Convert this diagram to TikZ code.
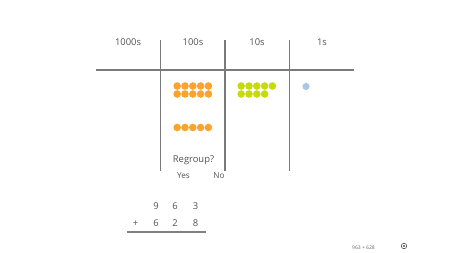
\documentclass[tikz,border=0pt]{standalone}
\usepackage{fontspec}
\setmainfont{Open Sans}
\begin{document}
\begin{tikzpicture}[x=1pt,y=-1pt,
  txt/.style={text=black!68, font=\fontsize{9.4}{11}\selectfont, inner sep=0pt},
  small/.style={text=black!60, font=\fontsize{5}{6}\selectfont, inner sep=0pt},
  rule/.style={draw=black!52, line width=1.5pt},
  odot/.style={circle, fill={rgb,255:red,250;green,163;blue,45}, minimum size=7.6pt, inner sep=0pt},
  gdot/.style={circle, fill={rgb,255:red,198;green,220;blue,10}, minimum size=7.6pt, inner sep=0pt},
  bdot/.style={circle, fill={rgb,255:red,170;green,199;blue,232}, minimum size=7.2pt, inner sep=0pt}]
\useasboundingbox (0,0) rectangle (450,253);
% grid
\coordinate (hl) at (96,70);
\coordinate (hr) at (354,70);
\draw[rule] (hl) -- (hr);
\foreach \x/\n in {160.5/a,225/b,289.5/c}{
  \coordinate (\n t) at (\x,40);
  \coordinate (\n b) at (\x,171);
  \draw[rule] (\n t) -- (\n b);
}
% headers
\node[txt] (h1000) at (128,42) {1000s};
\node[txt] (h100) at (193,42) {100s};
\node[txt] (h10) at (257,42) {10s};
\node[txt] (h1) at (322,42) {1s};
% orange dots
\foreach \i in {0,...,4}{
  \node[odot] (oa\i) at (177.2+7.8*\i,86) {};
  \node[odot] (ob\i) at (177.2+7.8*\i,94) {};
  \node[odot] (oc\i) at (177.2+7.8*\i,127.5) {};
}
% green dots
\foreach \i in {0,...,4}{
  \node[gdot] (ga\i) at (241.2+7.8*\i,86) {};
}
\foreach \i in {0,...,3}{
  \node[gdot] (gb\i) at (241.2+7.8*\i,94) {};
}
% blue dot
\node[bdot] (bd) at (306,86.5) {};
% regroup
\node[txt] (rg) at (193.5,160) {Regroup?};
\node[txt, font=\fontsize{8.2}{10}\selectfont] (yes) at (183.5,175.5) {Yes};
\node[txt, font=\fontsize{8.2}{10}\selectfont] (no) at (219,175.5) {No};
% sum
\node[txt] (d1) at (156,206) {9};
\node[txt] (d2) at (175,206) {6};
\node[txt] (d3) at (195.5,206) {3};
\node[txt] (pl) at (135.5,223.5) {+};
\node[txt] (e1) at (156,223.5) {6};
\node[txt] (e2) at (175,223.5) {2};
\node[txt] (e3) at (195.5,223.5) {8};
\coordinate (sl) at (126.5,232);
\coordinate (sr) at (205.5,232);
\draw[draw=black!50, line width=1.1pt] (sl) -- (sr);
% footer
\node[small] (eq) at (363.5,247.5) {963 + 628};
\node[circle, draw=black!70, line width=0.6pt, minimum size=5.5pt, inner sep=0pt] (ic) at (404,246) {};
\node[circle, fill=black!70, minimum size=2.4pt, inner sep=0pt] (icd) at (ic.center) {};
\end{tikzpicture}
\end{document}
